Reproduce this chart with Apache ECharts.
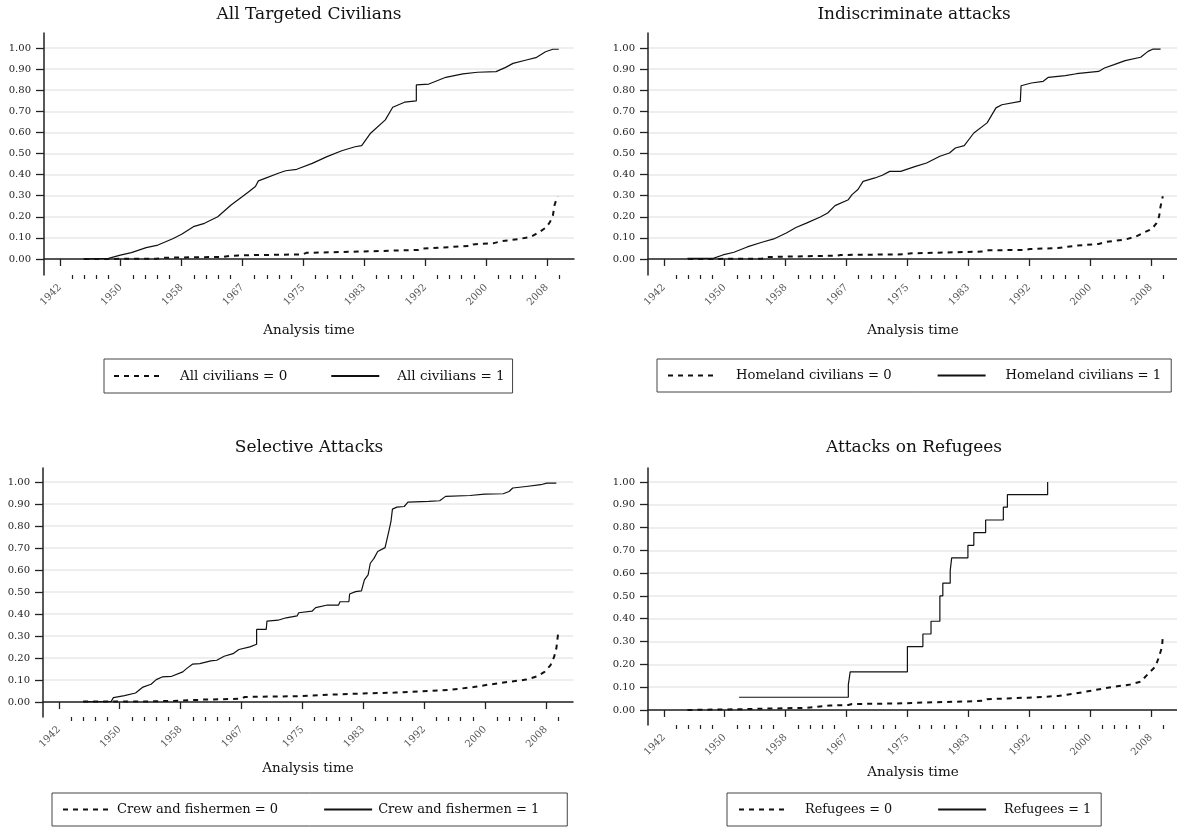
<!DOCTYPE html>
<html><head><meta charset="utf-8">
<script src="https://cdn.jsdelivr.net/npm/echarts@6/dist/echarts.min.js"></script>
<style>html,body{margin:0;padding:0;background:#fff}#c{width:1177px;height:829px}</style>
</head><body><div id="c"></div><script>
// ---- tick labels ----
const xTickLabels = ['1942','1950','1958','1967','1975','1983','1992','2000','2008'];
const yTickValues = [0,0.1,0.2,0.3,0.4,0.5,0.6,0.7,0.8,0.9,1.0];

// ---- titles / series names ----
const panelTitles = ['All Targeted Civilians','Indiscriminate attacks','Selective Attacks','Attacks on Refugees'];
const groupNames = ['All civilians','Homeland civilians','Crew and fishermen','Refugees'];

// ---- data: [year, cumulative failure] ----
const allCivSolid = [[1945.2,0],[1948.6,0.003],[1950.2,0.018],[1951.7,0.03],[1953.7,0.054],[1955.3,0.066],[1957.3,0.096],[1958.5,0.117],[1960.1,0.153],[1961.6,0.169],[1963.4,0.2],[1965.2,0.256],[1966.7,0.295],[1967.6,0.319],[1968.5,0.343],[1968.9,0.37],[1969.8,0.382],[1971.6,0.406],[1972.6,0.418],[1974.1,0.425],[1976.2,0.453],[1978.2,0.485],[1980.2,0.513],[1982,0.532],[1982.9,0.537],[1984.1,0.596],[1986.1,0.659],[1987.1,0.719],[1988.7,0.743],[1990.3,0.749],[1990.3,0.825],[1992,0.829],[1994.3,0.861],[1996.6,0.877],[1998.6,0.885],[2001.1,0.888],[2002.4,0.908],[2003.4,0.927],[2005.2,0.943],[2006.5,0.954],[2007.8,0.982],[2008.8,0.994],[2009.6,0.994]];
const allCivDashed = [[1945.3,0],[1955.1,0.001],[1956.1,0.006],[1964.2,0.01],[1965.2,0.015],[1966.2,0.017],[1974.9,0.022],[1975.4,0.029],[1982.5,0.035],[1990.6,0.043],[1991.1,0.049],[1997.7,0.062],[1998,0.069],[2000.8,0.075],[2001.8,0.084],[2004.3,0.095],[2005.9,0.106],[2006.9,0.126],[2007.9,0.15],[2008.4,0.175],[2008.8,0.205],[2009,0.252],[2009.4,0.297]];
const homeSolid = [[1945.2,0.003],[1948.7,0.003],[1950,0.019],[1951.5,0.032],[1953.3,0.057],[1955.3,0.079],[1956.9,0.095],[1958.6,0.123],[1959.9,0.149],[1961.4,0.171],[1963.2,0.199],[1964.2,0.218],[1965.2,0.253],[1967,0.281],[1967.5,0.305],[1968.3,0.329],[1969,0.368],[1970.6,0.384],[1971.6,0.397],[1972.6,0.415],[1974.1,0.415],[1976.1,0.439],[1977.6,0.455],[1979.4,0.487],[1980.7,0.502],[1981.5,0.526],[1982.7,0.537],[1984,0.597],[1985.8,0.645],[1987,0.716],[1987.8,0.731],[1990.3,0.747],[1990.4,0.821],[1991.8,0.834],[1993.4,0.842],[1994.1,0.861],[1996.4,0.869],[1997.9,0.878],[2000.9,0.889],[2001.7,0.905],[2003,0.921],[2004.5,0.94],[2006.6,0.956],[2007.6,0.984],[2008.3,0.995],[2009.3,0.995]];
const homeDashed = [[1945.3,0],[1955.3,0.001],[1955.8,0.009],[1965.5,0.016],[1966,0.019],[1974.6,0.022],[1975.6,0.027],[1985.3,0.035],[1986,0.041],[1990.8,0.043],[1991.6,0.047],[1995.4,0.052],[1997.9,0.063],[2000.9,0.071],[2002,0.081],[2004.5,0.092],[2006,0.107],[2007.1,0.126],[2008.1,0.142],[2008.7,0.167],[2009.1,0.202],[2009.3,0.25],[2009.6,0.297]];
const crewSolid = [[1945.3,0.002],[1949.1,0.003],[1949.4,0.02],[1950.9,0.029],[1952.4,0.041],[1953.4,0.068],[1954.5,0.081],[1955.2,0.102],[1956,0.114],[1957.3,0.117],[1958.8,0.137],[1959.3,0.152],[1960.1,0.172],[1961.1,0.175],[1962.6,0.187],[1963.4,0.19],[1964.4,0.208],[1965.6,0.22],[1966.4,0.239],[1967.9,0.251],[1968.8,0.263],[1968.8,0.33],[1970.1,0.33],[1970.2,0.368],[1971.7,0.372],[1972.8,0.383],[1974.3,0.392],[1974.5,0.406],[1976.3,0.413],[1976.8,0.429],[1978.4,0.441],[1979.9,0.441],[1980.1,0.456],[1981.3,0.456],[1981.4,0.491],[1982.2,0.502],[1983,0.505],[1983.4,0.555],[1983.9,0.578],[1984.2,0.631],[1984.7,0.653],[1985.2,0.684],[1986.2,0.702],[1986.7,0.775],[1987,0.821],[1987.2,0.877],[1987.8,0.886],[1988.8,0.889],[1989.3,0.909],[1992.1,0.912],[1993.6,0.915],[1994.4,0.935],[1997.7,0.939],[1999.7,0.945],[2002.2,0.947],[2003,0.957],[2003.5,0.973],[2005.3,0.98],[2007.3,0.988],[2008.1,0.995],[2009.4,0.995]];
const crewDashed = [[1945.3,0.002],[1954.5,0.003],[1958.5,0.006],[1961.6,0.011],[1966.7,0.015],[1967.2,0.023],[1974.8,0.027],[1978.4,0.033],[1982.4,0.038],[1987.5,0.043],[1991.1,0.049],[1995.1,0.056],[1998.2,0.068],[2000.2,0.079],[2002.8,0.091],[2005.3,0.102],[2006.8,0.117],[2007.8,0.137],[2008.6,0.167],[2009.1,0.205],[2009.4,0.243],[2009.7,0.327]];
const refSolid = [[1952.2,0.0556],[1967,0.111],[1967.25,0.167],[1975,0.278],[1977.1,0.333],[1978.2,0.389],[1979.4,0.5],[1979.8,0.556],[1980.8,0.611],[1981,0.667],[1983.2,0.722],[1984,0.778],[1985.6,0.833],[1988,0.889],[1988.55,0.944],[1994,1.0]];
const refDashed = [[1945.2,0],[1952.3,0.003],[1955.8,0.006],[1961.2,0.009],[1961.4,0.015],[1964.5,0.019],[1967,0.022],[1967.5,0.026],[1974.6,0.029],[1975.6,0.031],[1982.7,0.037],[1985.3,0.04],[1985.8,0.047],[1991.3,0.054],[1995.4,0.061],[1997.9,0.073],[2000.5,0.088],[2003,0.102],[2005,0.11],[2006.6,0.124],[2007.6,0.158],[2008.6,0.19],[2009.1,0.234],[2009.5,0.278],[2009.6,0.322]];

const solidData = [allCivSolid, homeSolid, crewSolid, refSolid];
const dashedData = [allCivDashed, homeDashed, crewDashed, refDashed];
const solidStep = [false, false, false, 'end'];

// ---- layout (not data) ----
const FONT = 'DejaVu Serif';
const X0 = 1942, XSTEP = 8.25, XMIN = 1939.86, XMAX = 2011.66;
const layout = [
  {cx:309, tTop:6,   grid:{left:44, top:33, width:530, height:242}, y:[-0.076,1.071], gap:48, lgLeft:104, lgTop:359, txtPad:13, lgPad:[10,8,10,9],  lgGap:43, lgFont:13.5},
  {cx:914, tTop:6,   grid:{left:648,top:33, width:530, height:242}, y:[-0.076,1.071], gap:48, lgLeft:657, lgTop:359, txtPad:15, lgPad:[10,10,10,10], lgGap:45, lgFont:13.2},
  {cx:309, tTop:439, grid:{left:43, top:468,width:530, height:249}, y:[-0.068,1.064], gap:44, lgLeft:52,  lgTop:793, txtPad:1,  lgPad:[10,28,10,10], lgGap:45, lgFont:13.0},
  {cx:914, tTop:439, grid:{left:648,top:468,width:530, height:257}, y:[-0.066,1.061], gap:40, lgLeft:727, lgTop:793, txtPad:13, lgPad:[10,10,10,11], lgGap:45, lgFont:12.8}
];

const majorTicks = xTickLabels.map((_, i) => X0 + XSTEP * i);
const minorTicks = [];
for (let k = 1; X0 + k * XSTEP / 5 <= 2010.5; k++) { if (k % 5 !== 0) minorTicks.push(X0 + k * XSTEP / 5); }

const option = {
  animation: false,
  backgroundColor: '#fff',
  textStyle: {fontFamily: FONT},
  title: [], grid: [], xAxis: [], yAxis: [], legend: [], series: []
};

layout.forEach((L, i) => {
  option.title.push({text: panelTitles[i], left: L.cx, top: L.tTop, textAlign: 'center', padding: 0,
    textStyle: {fontFamily: FONT, fontSize: 17, fontWeight: 'normal', color: '#111'}});
  option.grid.push(Object.assign({containLabel: false, outerBoundsMode: 'none'}, L.grid));
  option.xAxis.push({
    type: 'value', gridIndex: i, min: XMIN, max: XMAX, position: 'bottom',
    name: 'Analysis time', nameLocation: 'middle', nameGap: L.gap,
    nameTextStyle: {fontFamily: FONT, fontSize: 13.5, color: '#111'},
    axisLine: {show: true, lineStyle: {color: '#222', width: 1.5}},
    axisTick: {show: true, length: 7, customValues: majorTicks, lineStyle: {color: '#222', width: 1.3}},
    axisLabel: {show: true, customValues: majorTicks, rotate: 45, margin: 11, fontFamily: FONT, fontSize: 10, color: '#555',
      formatter: v => xTickLabels[Math.round((v - X0) / XSTEP)]},
    splitLine: {show: false}
  });
  option.xAxis.push({
    type: 'value', gridIndex: i, min: XMIN, max: XMAX, position: 'bottom',
    axisLine: {show: false},
    axisTick: {show: true, length: 4, customValues: minorTicks, lineStyle: {color: '#222', width: 1.2}},
    axisLabel: {show: false}, splitLine: {show: false}
  });
  option.yAxis.push({
    type: 'value', gridIndex: i, min: L.y[0], max: L.y[1],
    axisLine: {show: true, lineStyle: {color: '#222', width: 1.5}},
    axisTick: {show: true, length: 8, customValues: yTickValues, lineStyle: {color: '#222', width: 1.3}},
    axisLabel: {show: true, customValues: yTickValues, margin: 13, fontFamily: FONT, fontSize: 10, color: '#222',
      formatter: v => v.toFixed(2)},
    splitLine: {show: true, lineStyle: {color: '#e9e9e9', width: 1.5}}
  });
  const n0 = groupNames[i] + ' = 0', n1 = groupNames[i] + ' = 1';
  option.legend.push({
    data: [n0, n1], left: L.lgLeft, top: L.lgTop, width: 620, orient: 'horizontal',
    itemWidth: 48, itemHeight: 14, itemGap: L.lgGap, padding: L.lgPad,
    borderColor: '#444', borderWidth: 1, backgroundColor: '#fff', borderRadius: 0,
    selectedMode: false,
    itemStyle: {color: 'rgba(0,0,0,0)', borderColor: 'rgba(0,0,0,0)', borderWidth: 0, opacity: 0},
    textStyle: {fontFamily: FONT, fontSize: L.lgFont, color: '#111', padding: [0, 0, 0, L.txtPad]}
  });
  option.series.push({
    name: n0, type: 'line', xAxisIndex: 2 * i, yAxisIndex: i, data: dashedData[i],
    symbol: 'none', showSymbol: false, silent: true,
    itemStyle: {color: '#111'},
    lineStyle: {color: '#111', width: 2, type: [5, 5]}
  });
  option.series.push({
    name: n1, type: 'line', xAxisIndex: 2 * i, yAxisIndex: i, data: solidData[i],
    step: solidStep[i], symbol: 'none', showSymbol: false, silent: true,
    itemStyle: {color: '#111'},
    lineStyle: {color: '#111', width: 1.2, type: 'solid'}
  });
});

const chart = echarts.init(document.getElementById('c'), null, {renderer: 'canvas'});
chart.setOption(option);
</script></body></html>
